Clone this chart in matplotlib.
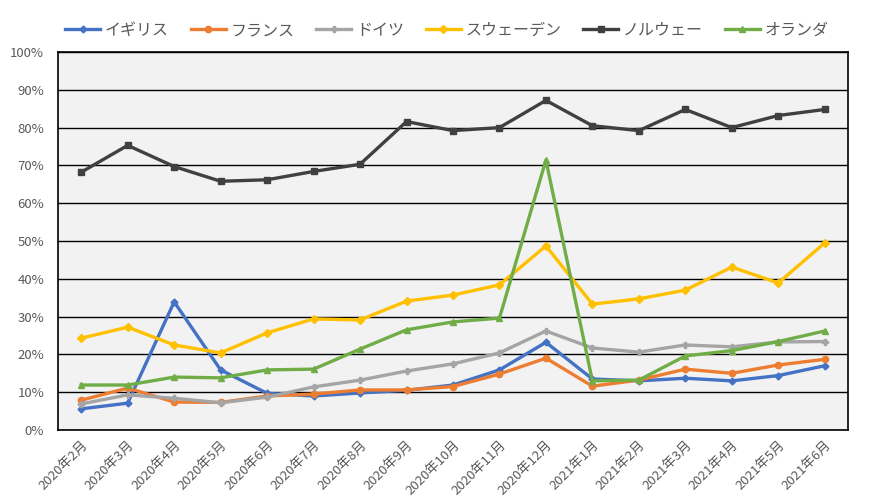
import matplotlib.pyplot as plt
from matplotlib.ticker import FuncFormatter, MultipleLocator

plt.rcParams['font.family'] = ['Noto Sans CJK JP', 'DejaVu Sans']

months = ['2020年2月', '2020年3月', '2020年4月', '2020年5月', '2020年6月', '2020年7月',
          '2020年8月', '2020年9月', '2020年10月', '2020年11月', '2020年12月',
          '2021年1月', '2021年2月', '2021年3月', '2021年4月', '2021年5月', '2021年6月']

uk = [5.6, 7.1, 33.9, 15.9, 9.7, 9.0, 9.8, 10.5, 11.9, 15.9, 23.2,
      13.5, 13.0, 13.7, 13.0, 14.4, 17.0]
france = [7.9, 11.1, 7.4, 7.3, 9.0, 9.5, 10.6, 10.6, 11.5, 14.8, 19.0,
          11.6, 13.2, 16.1, 15.0, 17.2, 18.7]
germany = [6.9, 9.3, 8.4, 7.2, 8.7, 11.4, 13.2, 15.6, 17.5, 20.4, 26.2,
           21.7, 20.6, 22.5, 22.0, 23.3, 23.4]
sweden = [24.3, 27.2, 22.5, 20.4, 25.7, 29.4, 29.1, 34.1, 35.7, 38.4, 48.7,
          33.3, 34.7, 37.0, 43.1, 38.9, 49.5]
norway = [68.2, 75.3, 69.7, 65.8, 66.2, 68.4, 70.3, 81.6, 79.2, 80.0, 87.2,
          80.5, 79.2, 84.8, 80.0, 83.2, 84.8]
netherlands = [11.9, 11.9, 14.0, 13.8, 15.9, 16.1, 21.4, 26.5, 28.6, 29.6, 71.4,
               13.0, 13.2, 19.6, 21.0, 23.4, 26.2]

series = [
    ('イギリス', uk, '#4472C4', 'D', 3.5),
    ('フランス', france, '#ED7D31', 'o', 4.5),
    ('ドイツ', germany, '#A5A5A5', 'P', 4),
    ('スウェーデン', sweden, '#FFC000', 'D', 4),
    ('ノルウェー', norway, '#404040', 's', 4.5),
    ('オランダ', netherlands, '#70AD47', '^', 5),
]

fig = plt.figure(figsize=(8.76, 5.01), dpi=100)
ax = fig.add_axes([0.0662, 0.1417, 0.9018, 0.7545])
ax.set_facecolor('#F2F2F2')

x = list(range(len(months)))
for name, vals, col, mk, ms in series:
    ax.plot(x, vals, color=col, lw=2.4, marker=mk, markersize=ms, label=name)

ax.set_xlim(-0.5, len(months) - 0.5)
ax.set_ylim(0, 100)
ax.yaxis.set_major_locator(MultipleLocator(10))
ax.yaxis.set_major_formatter(FuncFormatter(lambda v, p: '{:.0f}%'.format(v)))
ax.grid(axis='y', color='black', lw=1)
ax.set_axisbelow(True)
for sp in ax.spines.values():
    sp.set_color('black')
    sp.set_linewidth(1.2)

ax.set_xticks(x)
ax.set_xticklabels(months, rotation=45, ha='right', rotation_mode='anchor')
ax.tick_params(axis='both', length=0, colors='#595959', labelsize=9.5)
ax.tick_params(axis='y', pad=10)
ax.tick_params(axis='x', pad=6)

fig.legend(loc='upper center', bbox_to_anchor=(0.51, 0.985), ncol=6, frameon=False,
           fontsize=11.5, handlelength=2.2, columnspacing=1.35, handletextpad=0.3,
           labelcolor='#595959')

fig.savefig('out.png', dpi=100)
